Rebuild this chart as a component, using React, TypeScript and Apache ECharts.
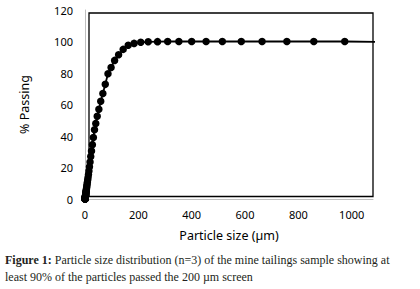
import React, { useEffect, useRef } from "react";
import * as echarts from "echarts";

// Particle size (µm) and cumulative % passing
const sizes: number[] = [
  0.2, 0.23, 0.26, 0.29, 0.33, 0.37, 0.42, 0.48, 0.55, 0.62, 0.7, 0.8, 0.9, 1.03,
  1.17, 1.3, 1.5, 1.7, 1.95, 2.2, 2.5, 2.8, 3.2, 3.7, 4.2, 4.7, 5.4, 6.1, 6.9, 7.8,
  8.9, 10.1, 11.4, 13, 14.7, 16.7, 18.9, 21.5, 24.4, 27.7, 31.4, 35.6, 40.4, 45.8,
  52, 59, 67, 76, 86.2, 97.8, 111, 126, 143, 162, 184, 209, 237, 272, 310, 352,
  400, 454, 515, 586, 664, 757, 858, 974,
];
const passing: number[] = [
  0, 0, 0, 0.05, 0.1, 0.15, 0.2, 0.3, 0.4, 0.5, 0.6, 0.75, 0.9, 1.1,
  1.3, 1.5, 1.7, 2.0, 2.3, 2.6, 3.0, 3.4, 3.9, 4.4, 5.0, 5.6, 6.4, 7.2, 8.2, 9.3,
  10.6, 12, 13.7, 15.6, 17.8, 20.5, 23.5, 27, 30.5, 34.5, 39, 44, 48, 52.5,
  57, 62, 67, 72.8, 79.5, 83.5, 88, 91.6, 95, 97.6, 98.8, 99.5, 99.8, 99.9, 100, 100,
  100, 100, 100, 100, 100, 100, 100, 100,
];
// line continues flat to the right edge of the plot
const tailSize = 1200;
const tailValue = 99.6;

const xTicks = [0, 200, 400, 600, 800, 1000];
const yTicks = [0, 20, 40, 60, 80, 100, 120];

const xTitle = "Particle size (µm)";
const yTitle = "% Passing";
const captionBold = "Figure 1:";
const captionLine1 = " Particle size distribution (n=3) of the mine tailings sample showing at";
const captionLine2 = "least 90% of the particles passed the 200 µm screen";

export default function App() {
  const ref = useRef<HTMLDivElement>(null);
  useEffect(() => {
    if (!ref.current) return;
    const chart = echarts.init(ref.current, undefined, { renderer: "svg" });
    const data: any[] = sizes.map((s, i) => [s, passing[i]]);
    data.push({ value: [tailSize, tailValue], symbol: "none" });
    const labelFont = "Noto Sans";
    chart.setOption({
      animation: false,
      grid: { left: 85, right: 47, top: 10, bottom: 90 },
      xAxis: {
        type: "value",
        min: 0,
        max: 1080,
        interval: 200,
        name: xTitle,
        nameLocation: "middle",
        nameGap: 30,
        nameTextStyle: { fontFamily: labelFont, fontSize: 12.5, color: "#000" },
        axisLine: { show: true, onZero: false, lineStyle: { color: "#bfbfbf", width: 1 } },
        axisTick: { show: false },
        splitLine: { show: false },
        axisLabel: {
          fontFamily: labelFont,
          fontSize: 11,
          color: "#000",
          margin: 10,
          showMaxLabel: false,
          formatter: (v: number) => (xTicks.includes(v) ? String(v) : ""),
        },
      },
      yAxis: {
        type: "value",
        min: 0,
        max: 120,
        interval: 20,
        name: yTitle,
        nameLocation: "middle",
        nameGap: 54,
        nameRotate: 90,
        nameTextStyle: { fontFamily: labelFont, fontSize: 12.5, color: "#000" },
        axisLine: { show: true, lineStyle: { color: "#bfbfbf", width: 1 } },
        axisTick: { show: false },
        splitLine: { show: false },
        axisLabel: {
          fontFamily: labelFont,
          fontSize: 11,
          color: "#000",
          margin: 12,
          formatter: (v: number) => (yTicks.includes(v) ? String(v) : ""),
        },
      },
      graphic: [
        {
          type: "rect",
          shape: { x: 89, y: 13, width: 284, height: 183.5 },
          style: { fill: "none", stroke: "#000", lineWidth: 1.3 },
          z: 0,
          silent: true,
        },
        {
          type: "text",
          left: 5,
          top: 254,
          style: {
            text: "{b|" + captionBold + "}{n|" + captionLine1 + "}",
            rich: {
              b: { fontFamily: "Liberation Serif", fontWeight: "bold", fontSize: 12, fill: "#231f20" },
              n: { fontFamily: "Liberation Serif", fontSize: 12, fill: "#231f20" },
            },
          },
        },
        {
          type: "text",
          left: 5,
          top: 271,
          style: {
            text: captionLine2,
            fontFamily: "Liberation Serif",
            fontSize: 12,
            fill: "#231f20",
          },
        },
      ],
      series: [
        {
          type: "line",
          data,
          symbol: "circle",
          symbolSize: 7.5,
          showSymbol: true,
          clip: true,
          itemStyle: { color: "#000" },
          lineStyle: { color: "#000", width: 1.8 },
          z: 3,
        },
      ],
    });
    return () => chart.dispose();
  }, []);
  return (
    <div
      ref={ref}
      style={{ position: "fixed", left: 0, top: 0, width: 420, height: 289, background: "#fff" }}
    />
  );
}
